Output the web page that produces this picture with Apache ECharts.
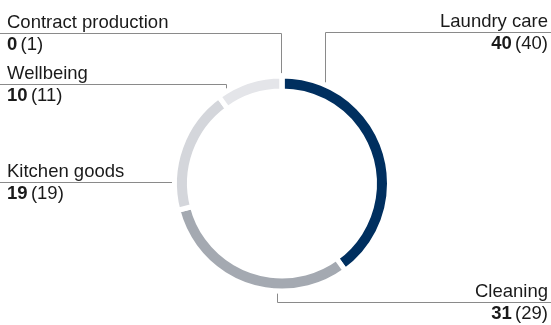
<!DOCTYPE html>
<html>
<head>
<meta charset="utf-8">
<script src="https://cdn.jsdelivr.net/npm/echarts@6/dist/echarts.min.js"></script>
<style>
  html, body { margin: 0; padding: 0; background: #fff; }
  #chart { width: 551px; height: 325px; }
</style>
</head>
<body>
<div id="chart"></div>
<script>
// 数据
const segments = ['Laundry care', 'Cleaning', 'Kitchen goods', 'Wellbeing', 'Contract production'];
const shares = [40, 31, 19, 10, 0];
const priorShares = [40, 29, 19, 11, 1];
const colors = ['#002f5f', '#a4a9b1', '#d4d6db', '#e4e5e9', '#e4e5e9'];

// label placement: side, underline y, x of the vertical leader (null = straight in)
const spots = [
  { side: 'right', lineY: 32.5, leaderX: 325.5 },
  { side: 'right', lineY: 302.5, leaderX: 277.5 },
  { side: 'left', lineY: 182.5, leaderX: null },
  { side: 'left', lineY: 84.5, leaderX: 226.5 },
  { side: 'left', lineY: 33.5, leaderX: 281.5 }
];

const W = 551;
const cx = 282, cy = 183.5, outerR = 105, gap = 5;
const border = 5;

const richFor = (align) => ({
  n: { fontFamily: 'Liberation Sans', fontSize: 18.5, lineHeight: 22, color: '#1a1a1a', align },
  v: { fontFamily: 'Liberation Sans', fontSize: 18.5, lineHeight: 22, color: '#1a1a1a', fontWeight: 'bold', align },
  p: { fontFamily: 'Liberation Sans', fontSize: 18.5, lineHeight: 22, color: '#1a1a1a', align }
});

const chart = echarts.init(document.getElementById('chart'));

chart.setOption({
  animation: false,
  series: [
    {
      type: 'pie',
      center: [cx, cy],
      radius: [95 - border / 2, outerR + border / 2],
      startAngle: 90,
      clockwise: true,
      avoidLabelOverlap: false,
      silent: true,
      itemStyle: { borderColor: '#fff', borderWidth: border },
      emphasis: { disabled: true },
      label: {
        show: true,
        formatter: (p) => `{n|${p.name}}\n{v|${p.value}} {p|(${priorShares[p.dataIndex]})}`
      },
      labelLine: {
        show: true,
        lineStyle: { color: '#8a8a8a', width: 1 }
      },
      labelLayout: function (params) {
        const s = spots[params.dataIndex];
        const reach = outerR + gap;
        let start, corner;
        if (s.leaderX === null) {
          const dx = Math.sqrt(reach * reach - (s.lineY - cy) * (s.lineY - cy));
          start = [cx - dx, s.lineY];
          corner = start;
        } else {
          const dy = Math.sqrt(reach * reach - (s.leaderX - cx) * (s.leaderX - cx));
          start = [s.leaderX, s.lineY < cy ? cy - dy : cy + dy];
          corner = [s.leaderX, s.lineY];
        }
        const end = [s.side === 'left' ? 0 : W, s.lineY];
        return {
          x: s.side === 'left' ? 7 : 548,
          y: s.lineY,
          align: s.side,
          verticalAlign: 'middle',
          labelLinePoints: [start, corner, end]
        };
      },
      data: segments.map((name, i) => ({
        name,
        value: shares[i],
        itemStyle: { color: colors[i] },
        label: { rich: richFor(spots[i].side) }
      }))
    }
  ]
});
</script>
</body>
</html>
